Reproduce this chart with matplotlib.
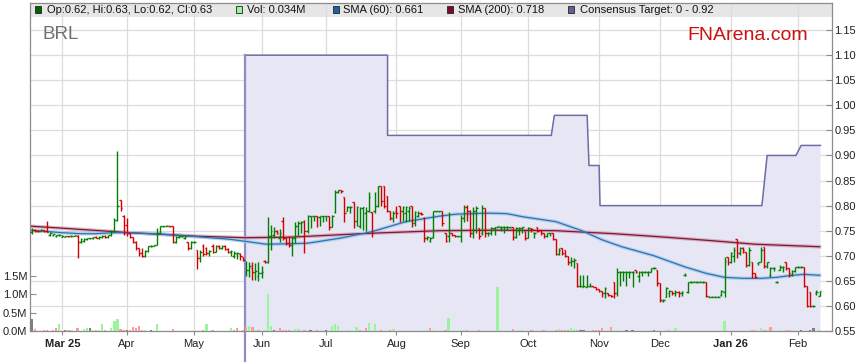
import matplotlib
matplotlib.use("Agg")
import matplotlib.pyplot as plt
from matplotlib.collections import LineCollection
from matplotlib.patches import Rectangle
import pandas as pd

plt.rcParams["font.family"] = ["Liberation Sans", "DejaVu Sans"]

# trading days shown: 17 Feb 2025 .. 11 Feb 2026
dates = pd.bdate_range("2025-02-17", "2026-02-11")
month_labels = ["Mar 25", "Apr", "May", "Jun", "Jul", "Aug", "Sep", "Oct", "Nov", "Dec", "Jan 26", "Feb"]

opens = [
    .748, .752, .750, .749, .752, .750, .742, .741, .740, .741,  # Feb
    .738, .738, .740, .739, .740, .740, .728, .730, .734, .735, .735, .737, .736, .738, .740, .737, .741, .750, .772, .812, .780,  # Mar
    .762, .745, .737, .728, .715, .705, .699, .710, .720, .720, .721, .745, .760, .760, .760, .760, .728, .738, .740, .735, .728, .715,  # Apr
    .728, .712, .695, .720, .715, .705, .720, .708, .720, .716, .720, .714, .708, .700, .704, .703, .698, .668, .672, .675, .668, .660,  # May
    .665, .690, .688, .740, .742, .750, .735, .770, .735, .725, .722, .735, .760, .765, .770, .750, .779, .779, .779, .778, .779,  # Jun
    .779, .779, .758, .788, .828, .831, .818, .790, .798, .808, .770, .760, .795, .785, .790, .788, .790, .800, .839, .839, .820, .790, .775,  # Jul
    .790, .800, .790, .785, .790, .800, .765, .780, .785, .775, .735, .730, .738, .789, .789, .789, .745, .740, .745, .741, .739,  # Aug
    .740, .775, .798, .790, .745, .790, .755, .745, .795, .745, .746, .755, .758, .758, .758, .758, .758, .758, .738, .750, .756, .750,  # Sep
    .735, .755, .745, .758, .751, .745, .740, .745, .745, .733, .703, .715, .712, .700, .688, .690, .685, .640, .638, .638, .640, .640, .638,  # Oct
    .633, .630, .625, .625, .622, .648, .625, .668, .668, .668, .668, .668, .672, .660, .668, .668, .668, .668, .676, .672,  # Nov
    .645, .610, .618, .625, .630, .625, .628, .625, .662, .628, .648, .648, .648, .648, .648, .648, .618, .618, .618, .618, .622, .628, .698,  # Dec
    .688, .700, .733, .705, .715, .708, .682, .688, .665, .685, .688, .718, .680, .662, .675, .648, .672, .678, .688, .675, .662, .670,  # Jan
    .678, .678, .678, .640, .628, .600, .625, .620,  # Feb
]
highs = [
    .755, .753, .752, .753, .752, .770, .748, .744, .742, .743,
    .741, .740, .740, .741, .742, .741, .735, .736, .736, .736, .738, .740, .740, .741, .741, .742, .752, .776, .909, .812, .782,
    .775, .745, .738, .730, .716, .716, .712, .720, .721, .722, .755, .760, .760, .761, .760, .760, .740, .741, .742, .742, .728, .730,
    .730, .712, .712, .724, .718, .712, .724, .722, .722, .722, .721, .716, .712, .710, .708, .706, .698, .690, .688, .688, .685, .688,
    .680, .692, .778, .762, .758, .752, .754, .778, .738, .740, .738, .768, .770, .770, .771, .781, .780, .780, .780, .780, .780,
    .780, .779, .781, .831, .832, .831, .818, .800, .800, .808, .800, .798, .798, .798, .828, .788, .828, .839, .839, .839, .820, .790, .790,
    .800, .800, .800, .800, .800, .800, .790, .790, .787, .778, .740, .738, .790, .790, .790, .789, .745, .788, .745, .742, .740,
    .781, .801, .801, .791, .798, .800, .755, .801, .795, .748, .758, .758, .760, .759, .759, .759, .758, .758, .758, .758, .758, .750,
    .758, .756, .748, .758, .751, .746, .746, .746, .746, .733, .715, .715, .712, .700, .698, .695, .685, .662, .662, .662, .645, .640, .638,
    .633, .630, .638, .625, .622, .648, .675, .670, .669, .669, .669, .669, .672, .670, .669, .669, .669, .676, .677, .672,
    .645, .614, .638, .632, .630, .632, .630, .630, .665, .648, .649, .649, .649, .649, .649, .648, .619, .619, .619, .619, .632, .698, .698,
    .708, .718, .733, .718, .718, .708, .718, .688, .665, .688, .718, .718, .688, .678, .678, .650, .682, .680, .688, .675, .672, .678,
    .679, .679, .678, .640, .628, .602, .632, .630,
]
lows = [
    .743, .748, .747, .749, .748, .747, .740, .739, .738, .739,
    .737, .737, .738, .738, .739, .696, .726, .728, .731, .733, .734, .735, .733, .736, .736, .736, .740, .748, .770, .790, .742,
    .740, .735, .725, .712, .700, .697, .698, .708, .718, .719, .721, .745, .758, .759, .758, .725, .726, .736, .738, .733, .712, .714,
    .726, .673, .688, .700, .702, .700, .706, .708, .714, .714, .712, .706, .700, .696, .694, .692, .690, .660, .658, .652, .652, .650,
    .655, .686, .686, .712, .735, .744, .728, .731, .721, .718, .700, .725, .740, .745, .706, .745, .755, .770, .758, .760, .768,
    .770, .751, .758, .785, .826, .826, .768, .790, .785, .755, .760, .755, .752, .750, .788, .738, .785, .798, .800, .795, .788, .772, .768,
    .775, .768, .770, .768, .770, .758, .760, .778, .781, .728, .731, .728, .735, .788, .787, .760, .728, .728, .740, .738, .737,
    .728, .768, .770, .738, .735, .745, .733, .741, .738, .740, .741, .742, .757, .750, .745, .752, .756, .731, .736, .741, .745, .731,
    .735, .748, .735, .748, .742, .735, .738, .740, .732, .702, .702, .702, .698, .682, .680, .675, .638, .638, .638, .638, .638, .637, .632,
    .628, .618, .615, .620, .618, .615, .620, .640, .650, .640, .655, .638, .665, .648, .660, .665, .660, .668, .674, .640,
    .608, .608, .618, .618, .622, .620, .618, .620, .660, .626, .646, .647, .646, .647, .646, .618, .617, .617, .617, .617, .620, .618, .682,
    .686, .688, .695, .702, .705, .678, .680, .655, .655, .682, .688, .675, .675, .658, .670, .646, .672, .668, .672, .658, .660, .668,
    .676, .676, .638, .598, .598, .598, .622, .620,
]
closes = [
    .752, .750, .749, .752, .749, .748, .745, .743, .741, .742,
    .740, .740, .739, .740, .741, .728, .733, .734, .735, .735, .737, .736, .738, .740, .737, .741, .750, .772, .800, .795, .745,
    .745, .737, .728, .715, .705, .699, .710, .720, .720, .721, .745, .760, .760, .760, .759, .728, .738, .740, .740, .740, .715, .728,
    .728, .695, .708, .703, .705, .710, .708, .720, .716, .720, .714, .708, .710, .706, .705, .700, .692, .672, .680, .668, .670, .665,
    .668, .688, .740, .750, .750, .746, .745, .735, .725, .722, .735, .760, .765, .768, .750, .779, .779, .779, .778, .779, .779,
    .779, .758, .780, .828, .831, .829, .785, .798, .798, .770, .798, .795, .798, .790, .818, .745, .800, .839, .810, .800, .790, .775, .785,
    .785, .790, .798, .798, .795, .765, .788, .785, .783, .735, .738, .735, .789, .789, .789, .765, .730, .745, .741, .739, .740,
    .775, .798, .790, .745, .790, .795, .740, .795, .745, .746, .755, .758, .760, .758, .758, .758, .758, .738, .755, .756, .757, .735,
    .755, .753, .745, .750, .745, .740, .745, .745, .733, .703, .712, .705, .700, .688, .690, .692, .640, .640, .640, .640, .640, .638, .633,
    .630, .625, .636, .622, .620, .625, .668, .668, .668, .668, .668, .668, .668, .668, .668, .668, .668, .676, .676, .645,
    .612, .612, .635, .630, .625, .628, .625, .628, .662, .648, .648, .648, .648, .648, .648, .620, .618, .618, .618, .618, .630, .690, .688,
    .705, .712, .705, .715, .712, .682, .712, .665, .658, .688, .712, .680, .688, .675, .675, .648, .678, .678, .675, .665, .670, .678,
    .678, .678, .640, .600, .600, .600, .628, .630,
]
# volume, millions of shares
volume_m = [
    .33, .05, 0, 0, .02, .02, 0, .02, .08, .18,
    0, .02, .02, .02, 0, .09, 0, .06, .09, .09, .02, .02, .02, .18, .02, 0, .09, .27, .32, .06, .02,
    .02, .04, .12, .09, .15, .02, .02, 0, .02, 0, .18, 0, 0, 0, 0, .06, 0, 0, 0, 0, 0, 0,
    0, 0, 0, .02, .18, 0, .02, 0, 0, 0, 0, 0, .07, .04, .07, 0, .02, .11, .15, .12, .04, .04,
    0, .02, 1.0, .14, .02, 0, .07, .02, .02, .02, 0, .06, .06, 0, .02, 0, .02, 0, .02, 0, 0,
    .02, 0, .15, .18, .15, 0, 0, .02, 0, 0, .12, .02, 0, .09, .21, 0, .18, 0, .02, 0, 0, .02, .06,
    0, 0, 0, 0, 0, 0, 0, 0, 0, 0, .04, .09, .04, 0, 0, 0, .02, .36, 0, 0, 0,
    .02, .02, .02, 0, 0, 0, .02, 0, 0, 0, 0, 0, 1.19, 0, 0, 0, 0, .06, 0, .02, .02, 0,
    0, .02, 0, 0, 0, .02, 0, 0, 0, .02, .06, .02, .04, .04, .09, .06, .02, .04, .02, 0, 0, .02, .02,
    .02, .09, 0, 0, .12, 0, .02, 0, 0, .02, 0, .02, 0, 0, 0, 0, 0, .02, .02, 0,
    0, 0, .02, .02, 0, .07, 0, 0, 0, 0, 0, 0, 0, 0, 0, 0, 0, 0, 0, 0, 0, .27, 0,
    0, 0, 0, 0, 0, 0, 0, .02, .02, 0, .09, .02, .02, .12, 0, 0, .02, 0, .02, .02, .02, 0,
    0, .02, 0, 0, .02, .07, 0, .034,
]

# moving averages (bar index, value)
sma60_idx = [-0.5, 10, 16, 21, 26.5, 32, 43, 54, 64.5, 69.5, 76.5, 84, 90, 100.5, 111, 122, 133, 138.5,
             149, 155, 160, 165.5, 171, 179.5, 186, 192.5, 203, 213, 220, 226, 232, 238, 243, 248, 252, 257]
sma60 = [0.751, 0.746, 0.744, 0.744, 0.746, 0.746, 0.743, 0.738, 0.733, 0.729, 0.723, 0.724, 0.725, 0.735,
         0.748, 0.768, 0.779, 0.783, 0.785, 0.784, 0.778, 0.773, 0.768, 0.750, 0.732, 0.718, 0.700, 0.678,
         0.665, 0.657, 0.655, 0.655, 0.657, 0.661, 0.663, 0.661]
sma200_idx = [-0.5, 10, 32, 54, 69.5, 84, 111, 133, 152.5, 171, 190, 207, 222, 236, 257]
sma200 = [0.759, 0.755, 0.746, 0.739, 0.736, 0.737, 0.745, 0.750, 0.751, 0.750, 0.744, 0.737, 0.730, 0.723, 0.718]

# consensus target (bar index, value)
cons_idx = [69.5, 116.1, 116.1, 169.5, 170.5, 181.2, 181.8, 185.1, 185.4, 238.2, 239.9, 249.3, 251.0, 257.3]
cons_val = [1.10, 1.10, 0.94, 0.94, 0.98, 0.98, 0.88, 0.88, 0.80, 0.80, 0.90, 0.90, 0.92, 0.92]

n = len(dates)
assert len(opens) == len(highs) == len(lows) == len(closes) == len(volume_m) == n

W, H = 859, 363
fig = plt.figure(figsize=(W / 100, H / 100), dpi=100)
ax = fig.add_axes([30 / W, 32 / H, 801.5 / W, 328 / H])
ax.set_xlim(-0.53, 260.9)
ax.set_ylim(0.55, 1.204)

GRID = "#dcdcdc"
SPINE = "#8c8c8c"
TXT = "#222222"

# legend strip across the top of the plot
ax.add_patch(Rectangle((0, 1 - 14 / 328), 1, 14 / 328, transform=ax.transAxes,
                       facecolor="#e6e6e6", edgecolor="none", zorder=0.2))

# consensus target area
ax.fill_between(cons_idx, 0.55, cons_val, facecolor="#e6e6f5", edgecolor="none", zorder=1)
ax.plot(cons_idx, cons_val, color="#6c6ca6", lw=1.1, zorder=1.5)
ax.plot([cons_idx[0], cons_idx[0]], [0.49, cons_val[0]], color="#8e8ec4", lw=1.6,
        zorder=1.5, clip_on=False)

# moving averages
ax.plot(sma200_idx, sma200, color="#d3a3b3", lw=2.6, alpha=0.8, zorder=2)
ax.plot(sma200_idx, sma200, color="#7d1838", lw=0.9, zorder=2.1)
ax.plot(sma60_idx, sma60, color="#a7c8e8", lw=2.6, alpha=0.8, zorder=2)
ax.plot(sma60_idx, sma60, color="#2c74b8", lw=0.9, zorder=2.1)

# OHLC bars
segs, cols = [], []
for i in range(n):
    c = "#008000" if closes[i] >= opens[i] else "#d40000"
    segs += [[(i, lows[i]), (i, highs[i])],
             [(i - 0.5, opens[i]), (i, opens[i])],
             [(i, closes[i]), (i + 0.5, closes[i])]]
    cols += [c, c, c]
ax.add_collection(LineCollection(segs, colors=cols, linewidths=1.0, zorder=3, capstyle="butt"))

# volume on its own scale, labelled on the left
axv = ax.twinx()
axv.set_ylim(0, 8.96)
axv.set_xlim(ax.get_xlim())
axv.patch.set_visible(False)
for s in axv.spines.values():
    s.set_visible(False)
vcols = []
for i in range(n):
    if i > 0 and closes[i] > closes[i - 1]:
        vcols.append("#99f599")
    elif i > 0 and closes[i] < closes[i - 1]:
        vcols.append("#ff9a9a")
    else:
        vcols.append("#808080")
axv.bar(range(n), volume_m, width=0.75, color=vcols, zorder=2)
axv.set_yticks([0, 0.5, 1.0, 1.5])
axv.set_yticklabels(["0.0M", "0.5M", "1.0M", "1.5M"])
axv.yaxis.tick_left()
axv.tick_params(axis="y", direction="in", length=4, width=0.8, color=SPINE, pad=2,
                labelsize=8, labelcolor=TXT)

# month ticks on first trading day of each month
months = dates.to_period("M")
tick_pos = [i for i in range(1, n) if months[i] != months[i - 1]]
ax.set_xticks(tick_pos)
ax.set_xticklabels(month_labels)
for lab in ax.get_xticklabels():
    if " " in lab.get_text():
        lab.set_fontweight("bold")
ax.tick_params(axis="x", direction="out", length=3, width=0.8, color=SPINE, pad=2.5,
               labelsize=8, labelcolor=TXT)

price_ticks = [0.55 + 0.05 * k for k in range(13)]
ax.set_yticks(price_ticks)
ax.set_yticklabels([f"{t:.2f}" for t in price_ticks])
ax.yaxis.tick_right()
ax.tick_params(axis="y", direction="in", length=4, width=0.8, color=SPINE, pad=2,
               labelsize=8, labelcolor=TXT)

ax.set_axisbelow(True)
ax.grid(True, color=GRID, lw=0.9)
for s in ax.spines.values():
    s.set_color(SPINE)
    s.set_linewidth(0.9)

# header texts
fig.text(42 / W, 1 - 39 / H, "BRL", fontsize=13.5, color="#707070", va="baseline")
fig.text(687 / W, 1 - 40 / H, "FNArena.com", fontsize=14, color="#cc1111", va="baseline")

legend = [
    ("#006400", f"Op:{opens[-1]:.2f}, Hi:{highs[-1]:.2f}, Lo:{lows[-1]:.2f}, Cl:{closes[-1]:.2f}", 35, 47),
    ("#99f599", f"Vol: {volume_m[-1]:.3f}M", 236, 247),
    ("#1f62a6", f"SMA (60): {sma60[-1]:.3f}", 333, 343),
    ("#7d0a2c", f"SMA (200): {sma200[-1]:.3f}", 447, 458),
    ("#60609c", f"Consensus Target: 0 - {cons_val[-1]:.2f}", 568, 580),
]
for col, txt, sx, tx in legend:
    fig.add_artist(Rectangle((sx / W, 1 - 12.5 / H), 6 / W, 6 / H, transform=fig.transFigure,
                             facecolor=col, edgecolor="#222222", lw=0.6))
    fig.text(tx / W, 1 - 10 / H, txt, fontsize=8, color="#111111", va="center")

fig.savefig("out.png", dpi=100, facecolor="white")
